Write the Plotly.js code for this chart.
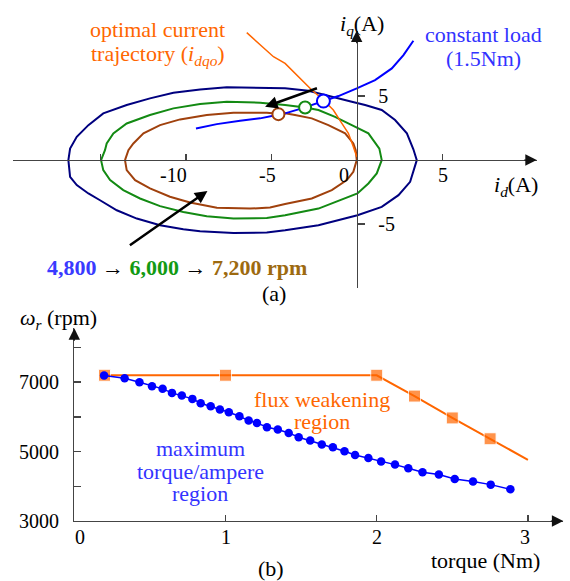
<!DOCTYPE html>
<html><head><meta charset="utf-8">
<script src="https://cdn.plot.ly/plotly-3.0.1.min.js"></script>
<style>html,body{margin:0;padding:0;background:#fff}</style>
</head><body><div id="chart" style="width:570px;height:581px"></div>
<script>
// ---------- (a) current plane data (A) ----------
const navy4800Id = [-16.88,-16.78,-16.39,-15.71,-15.03,-14.05,-12.88,-11.52,-10.16,-9.18,-7.23,-5.28,-4.21,-2.26,0.02,1.44,2.42,3.10,3.49,3.29,2.91,2.22,1.44,0.47,-0.31,-1.48,-2.85,-4.21,-5.67,-7.62,-9.18,-10.74,-12.11,-13.47,-14.84,-15.71,-16.39,-16.78,-16.88];
const navy4800Iq = [0,-1.30,-1.95,-2.60,-3.13,-3.91,-4.56,-5.08,-5.39,-5.55,-5.68,-5.65,-5.47,-5.08,-4.30,-3.65,-2.73,-1.69,0,0.85,2.09,3.13,3.91,4.30,4.55,4.95,5.42,5.60,5.65,5.68,5.52,5.26,4.82,4.30,3.65,2.73,1.82,0.91,0];
const green6000Id = [-14.97,-14.84,-14.44,-13.67,-12.69,-11.52,-10.16,-8.79,-7.23,-5.28,-4.21,-2.26,0.02,0.66,1.15,1.44,1.30,0.66,-0.31,-1.29,-2.26,-3.04,-4.21,-5.67,-7.62,-9.18,-10.74,-12.11,-13.47,-14.25,-14.64,-14.74,-14.97];
const green6000Iq = [0,-0.78,-1.56,-2.34,-2.99,-3.59,-4.04,-4.38,-4.56,-4.51,-4.30,-3.78,-2.60,-1.82,-1.04,0,0.90,2.09,2.73,3.38,3.91,4.11,4.30,4.48,4.55,4.38,4.04,3.52,2.86,2.09,1.30,0.78,0];
const brown7200Id = [-13.57,-13.47,-12.98,-12.11,-10.94,-9.77,-8.20,-6.26,-5.09,-4.21,-2.65,-1.48,-0.60,-0.22,-0.02,-0.08,-0.22,-0.70,-1.68,-2.65,-3.63,-4.21,-4.60,-5.28,-7.23,-8.79,-10.35,-11.52,-12.49,-13.08,-13.37,-13.57];
const brown7200Iq = [0,-0.78,-1.56,-2.21,-2.86,-3.31,-3.72,-3.78,-3.70,-3.42,-2.99,-2.34,-1.56,-0.91,0,0.78,1.30,2.09,2.73,3.26,3.52,3.65,3.62,3.70,3.70,3.52,3.18,2.73,2.09,1.30,0.78,0];
const loadId = [-9.42,-8.20,-6.84,-5.67,-4.70,-4.21,-3.23,-2.06,-1.09,-0.02,1.05,2.03,2.71,3.29];
const loadIq = [2.47,2.81,3.07,3.26,3.52,3.65,4.04,4.55,5.00,5.60,6.25,7.16,8.20,9.32];
const optId = [-6.45,-5.67,-4.89,-4.21,-3.43,-2.65,-1.97,-1.39,-0.89,-0.51,-0.22,-0.02];
const optIq = [9.95,8.98,8.07,7.55,6.51,5.47,4.69,3.91,2.87,2.09,1.04,0.26];
const opId = [-1.97,-3.04,-4.60];
const opIq = [4.61,4.11,3.59];
const topXTickVals = [-15,-10,-5,5];
const topXLabelVals = [-10,-5,0,5];
const topXLabels = ['-10','-5','0','5'];
const topYTickVals = [-5,5];
const topYTickText = ['-5','5'];
// ---------- (b) speed vs torque ----------
const fwTorque = [0.2,1.0,2.0,2.25,2.5,2.75,3.0];
const fwSpeed = [7200,7200,7200,6600,5970,5370,4760];
const mtpaTorque = [0.197,0.333,0.431,0.514,0.584,0.646,0.711,0.781,0.836,0.902,0.963,1.022,1.092,1.153,1.208,1.274,1.346,1.418,1.484,1.560,1.637,1.710,1.787,1.857,1.945,2.029,2.121,2.209,2.303,2.411,2.516,2.637,2.754,2.884];
const mtpaSpeed = [7192,7115,7000,6885,6808,6692,6615,6519,6394,6308,6212,6135,6019,5894,5827,5702,5635,5538,5413,5317,5202,5125,5010,4904,4817,4712,4625,4519,4404,4337,4212,4135,4048,3913];
const botXTickVals = [0,1,2,3];
const botXTickText = ['0','1','2','3'];
const botYTickVals = [3000,4000,5000,6000,7000,8000];
const botYTickText = ['3000','','5000','','7000',''];

// ---------- styling / layout ----------
const W = 570, H = 581;
const FONT = 'Liberation Serif, Times New Roman, serif';
const ORANGE = '#ff6600', BLUE = '#0000ff', TBLUE = '#3333ff';
const NAVY = '#00007f', GREEN = '#138a13', BROWN = '#a0410d';
const AX = '#444444';
const fx = p => p / W, fy = p => 1 - p / H;

const topXDom = [fx(13.3), fx(536.7)], topYDom = [fy(288.3), fy(30.7)];
const topXR = [-20.1, 10.5], topYR = [-10.0, 10.1];
const botXDom = [fx(74.3), fx(563.3)], botYDom = [fy(521), fy(328.3)];
const botXR = [0, 3.234], botYR = [3000, 8553];
const at = (dom, r, v) => dom[0] + (v - r[0]) / (r[1] - r[0]) * (dom[1] - dom[0]);

const traces = [
  {x: navy4800Id, y: navy4800Iq, mode: 'lines', line: {color: NAVY, width: 2}, xaxis: 'x', yaxis: 'y'},
  {x: green6000Id, y: green6000Iq, mode: 'lines', line: {color: GREEN, width: 2}, xaxis: 'x', yaxis: 'y'},
  {x: brown7200Id, y: brown7200Iq, mode: 'lines', line: {color: BROWN, width: 2}, xaxis: 'x', yaxis: 'y'},
  {x: optId, y: optIq, mode: 'lines', line: {color: ORANGE, width: 1.5}, xaxis: 'x', yaxis: 'y'},
  {x: loadId, y: loadIq, mode: 'lines', line: {color: BLUE, width: 2}, xaxis: 'x', yaxis: 'y'},
  {x: opId, y: opIq, mode: 'markers', xaxis: 'x', yaxis: 'y',
   marker: {symbol: 'circle', size: [13, 12, 12], color: '#ffffff', opacity: 1, line: {color: [BLUE, GREEN, BROWN], width: 2}}},
  {x: fwTorque, y: fwSpeed, mode: 'lines+markers', xaxis: 'x2', yaxis: 'y2',
   line: {color: ORANGE, width: 2}, marker: {symbol: 'square', color: ORANGE, size: fwTorque.map((v, i) => i === fwTorque.length - 1 ? 0 : 12)}},
  {x: mtpaTorque, y: mtpaSpeed, mode: 'lines+markers', xaxis: 'x2', yaxis: 'y2',
   line: {color: BLUE, width: 1.5}, marker: {symbol: 'circle', color: BLUE, size: 8.5}}
];

const tickFont = () => ({family: FONT, size: 20, color: '#000'});
function txt(text, x, y, size, color, extra) {
  return Object.assign({text: text, xref: 'paper', yref: 'paper', x: fx(x), y: fy(y),
    xanchor: 'center', yanchor: 'middle', showarrow: false,
    font: {family: FONT, size: size, color: color}}, extra || {});
}
function head(x, y, ax, ay) {
  return {text: '', xref: 'paper', yref: 'paper', x: fx(x), y: fy(y), ax: ax, ay: ay,
    showarrow: true, arrowhead: 2, arrowsize: 1.9, arrowwidth: 1.2, arrowcolor: '#111', standoff: 0};
}
function bigArrow(tx, ty, hx, hy) {
  return {text: '', xref: 'x', yref: 'y', axref: 'x', ayref: 'y', x: hx, y: hy, ax: tx, ay: ty,
    showarrow: true, arrowhead: 2, arrowsize: 1.0, arrowwidth: 2.5, arrowcolor: '#000', standoff: 0};
}

const topXLabelShift = [-13, -4, -13, 0];
const botXLabelShift = [6, 0, 0, -3];
const ann = [
  txt('optimal current', 158, 30, 22, ORANGE),
  txt('trajectory (<i>i</i><sub><i>dqo</i></sub>)', 158, 55, 22, ORANGE),
  txt('<i>i</i><sub><i>q</i></sub>(A)', 362, 25, 22, '#000'),
  txt('constant load', 483, 35, 22, TBLUE),
  txt('(1.5Nm)', 483, 58, 22, TBLUE),
  txt('<i>i</i><sub><i>d</i></sub>(A)', 516, 186, 22, '#000'),
  txt('<b><span style="color:#3a3aff">4,800</span> → <span style="color:#129a12">6,000</span> → <span style="color:#9d6a10">7,200 rpm</span></b>', 177, 267, 22, '#000'),
  txt('(a)', 274, 293, 22, '#000'),
  txt('<i>ω</i><sub><i>r</i></sub> (rpm)', 58, 319, 22, '#000'),
  txt('flux weakening', 322, 399, 22, ORANGE),
  txt('region', 322, 421, 22, ORANGE),
  txt('maximum', 200, 448, 22, TBLUE),
  txt('torque/ampere', 200, 471, 22, TBLUE),
  txt('region', 200, 494, 22, TBLUE),
  txt('torque (Nm)', 485, 560, 22, '#000'),
  txt('(b)', 271, 568, 22, '#000'),
  head(536.7, 160, -14, 0),
  head(356.7, 30.7, 0, 14),
  head(563.3, 521, -14, 0),
  head(74.3, 328.3, 0, 14),
  bigArrow(-2.26, 5.65, -5.38, 4.16),
  bigArrow(-13.37, -6.72, -8.75, -2.40)
];
topXLabelVals.forEach((v, i) => ann.push({text: topXLabels[i], xref: 'x', yref: 'y', x: v, y: 0,
  xshift: topXLabelShift[i], yshift: -15, showarrow: false, xanchor: 'center', yanchor: 'middle', font: tickFont()}));
botXTickVals.forEach((v, i) => ann.push({text: botXTickText[i], xref: 'x2', yref: 'y2', x: v, y: botYR[0],
  xshift: botXLabelShift[i], yshift: -16, showarrow: false, xanchor: 'center', yanchor: 'middle', font: tickFont()}));

const layout = {
  width: W, height: H, margin: {l: 0, r: 0, t: 0, b: 0, pad: 0},
  paper_bgcolor: '#fff', plot_bgcolor: 'rgba(0,0,0,0)', showlegend: false,
  font: {family: FONT, size: 20, color: '#000'},
  xaxis: {domain: topXDom, range: topXR, anchor: 'free', position: at(topYDom, topYR, 0),
    showgrid: false, zeroline: false, showline: true, linecolor: AX, linewidth: 1.2,
    tickmode: 'array', tickvals: topXTickVals, ticks: 'inside', ticklen: 6, tickwidth: 1.5, tickcolor: AX,
    showticklabels: false, automargin: false, fixedrange: true},
  yaxis: {domain: topYDom, range: topYR, anchor: 'free', position: at(topXDom, topXR, 0), side: 'right',
    showgrid: false, zeroline: false, showline: true, linecolor: AX, linewidth: 1.2,
    tickmode: 'array', tickvals: topYTickVals, ticktext: topYTickText, ticks: 'outside', ticklen: 7, tickwidth: 1.5, tickcolor: AX,
    tickfont: tickFont(), ticklabelstandoff: 9, automargin: false, fixedrange: true},
  xaxis2: {domain: botXDom, range: botXR, anchor: 'y2',
    showgrid: false, zeroline: false, showline: true, linecolor: AX, linewidth: 1.2,
    tickmode: 'array', tickvals: botXTickVals, ticks: 'inside', ticklen: 6, tickwidth: 1.5, tickcolor: AX,
    showticklabels: false, automargin: false, fixedrange: true},
  yaxis2: {domain: botYDom, range: botYR, anchor: 'x2',
    showgrid: false, zeroline: false, showline: true, linecolor: AX, linewidth: 1.2,
    tickmode: 'array', tickvals: botYTickVals, ticktext: botYTickText, ticks: 'inside', ticklen: 7, tickwidth: 1.5, tickcolor: AX,
    tickfont: tickFont(), ticklabelstandoff: 10, automargin: false, fixedrange: true},
  annotations: ann
};
Plotly.newPlot('chart', traces, layout, {displayModeBar: false, staticPlot: true});
</script></body></html>
